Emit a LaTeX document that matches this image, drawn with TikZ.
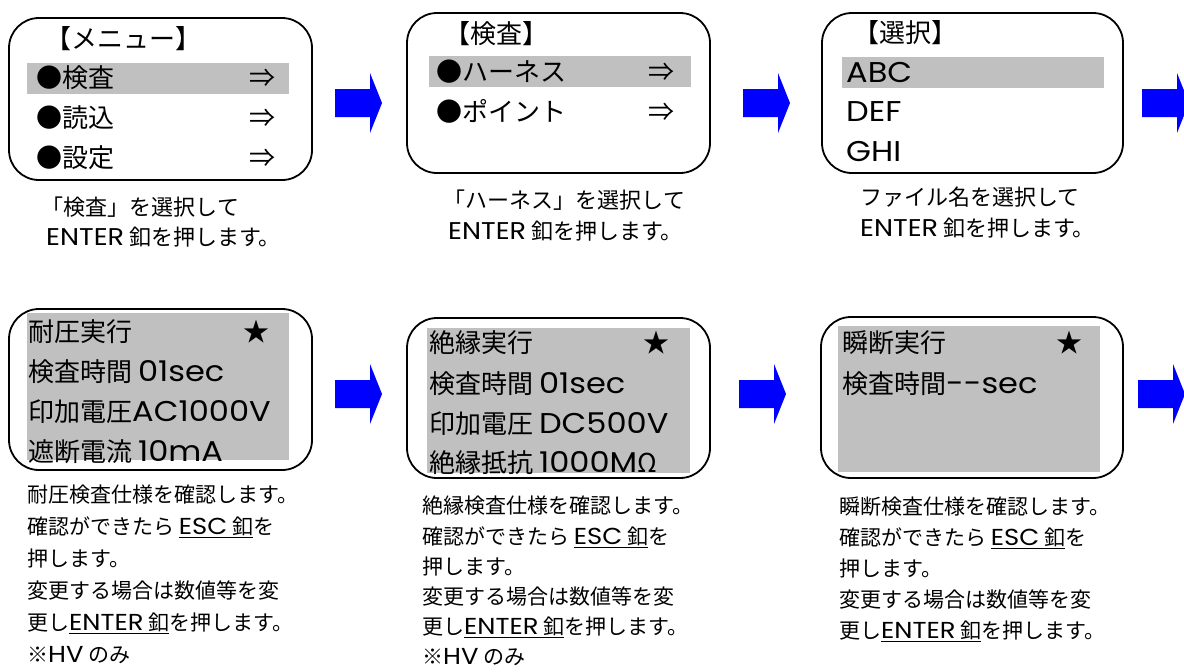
\documentclass[tikz,border=0pt]{standalone}
\usepackage{fontspec}
\setmainfont{Noto Sans CJK JP}
\newfontfamily\latfont[Scale=1.1,FakeStretch=1.12]{Poppins}
\newcommand\latn[1]{{\latfont #1}}
\definecolor{hlgray}{RGB}{192,192,192}
\definecolor{arrowblue}{RGB}{0,0,255}
\begin{document}
\begin{tikzpicture}[x=1pt,y=-1pt,
  screen/.style={draw=black, line width=1.8pt, rounded corners=30pt, inner sep=0pt},
  hl/.style={fill=hlgray},
  row/.style={anchor=west, inner sep=0pt, font=\fontsize{26}{30}\selectfont, text height=21.6pt, text depth=1.8pt},
  captext/.style={anchor=north west, inner sep=0pt, align=left},
  barrow/.pic={\fill[arrowblue] (0,-14) -- (35,-14) -- (35,-30) -- (47,0) -- (35,30) -- (35,14) -- (0,14) -- cycle;}
]
\useasboundingbox (0,0) rectangle (1184,672);
\clip (0,0) rectangle (1184,672);

% highlights
\fill[hl] (27,63) rectangle (289,94);
\fill[hl] (429,56) rectangle (691,87);
\fill[hl] (842,57) rectangle (1104,88);
\fill[hl] (27,313) rectangle (289,460);
\fill[hl] (427,328) rectangle (690,473);
\fill[hl] (838,326) rectangle (1100,472);

% screens
\node[screen, minimum width=303pt, minimum height=162pt] (s1) at (160.5,99) {};
\node[screen, minimum width=303pt, minimum height=160pt] (s2) at (558.5,93) {};
\node[screen, minimum width=301pt, minimum height=160pt] (s3) at (972.5,93) {};
\node[screen, minimum width=303pt, minimum height=161pt] (s4) at (160.5,389.5) {};
\node[screen, minimum width=303pt, minimum height=160pt] (s5) at (558.5,398) {};
\node[screen, minimum width=302pt, minimum height=161pt] (s6) at (972,397.5) {};

% screen 1
\node[row] (t1) at (45,39) {【メニュー】};
\node[row] (r11) at (36,78) {●検査};
\node[row] (r12) at (36,118) {●読込};
\node[row] (r13) at (36,158) {●設定};
\node[row, anchor=center] (a11) at (262,78) {⇒};
\node[row, anchor=center] (a12) at (262,118) {⇒};
\node[row, anchor=center] (a13) at (262,158) {⇒};

% screen 2
\node[row] (t2) at (444,34) {【検査】};
\node[row] (r21) at (436,72) {●ハーネス};
\node[row] (r22) at (436,112) {●ポイント};
\node[row, anchor=center] (a21) at (661,72) {⇒};
\node[row, anchor=center] (a22) at (661,112) {⇒};

% screen 3
\node[row] (t3) at (853,33) {【選択】};
\node[row] (r31) at (846,73) {\latn{ABC}};
\node[row] (r32) at (846,112) {\latn{DEF}};
\node[row] (r33) at (846,152) {\latn{GHI}};

% screen 4
\node[row] (t4) at (28,332) {耐圧実行};
\node[row, anchor=center] (k4) at (256,332) {★};
\node[row] (r41) at (28,372) {検査時間 \latn{01sec}};
\node[row] (r42) at (28,412) {印加電圧\latn{AC1000V}};
\node[row] (r43) at (28,452) {遮断電流 \latn{10mA}};

% screen 5
\node[row] (t5) at (429,343) {絶縁実行};
\node[row, anchor=center] (k5) at (656,343) {★};
\node[row] (r51) at (429,384) {検査時間 \latn{01sec}};
\node[row] (r52) at (429,424) {印加電圧 \latn{DC500V}};
\node[row] (r53) at (429,463) {絶縁抵抗 \latn{1000M}Ω};

% screen 6
\node[row] (t6) at (842,343) {瞬断実行};
\node[row, anchor=center] (k6) at (1069,343) {★};
\node[row] (r61) at (842,384) {検査時間\latn{-{}-sec}};

% captions
\node[captext, font=\fontsize{22}{29.5}\selectfont] (c1) at (46,197)
  {\kern-0.2em「検査」を選択して\\\latn{ENTER} 釦を押します。};
\node[captext, font=\fontsize{22}{31}\selectfont] (c2) at (448,190)
  {\kern-0.2em「ハーネス」を選択して\\\latn{ENTER} 釦を押します。};
\node[captext, font=\fontsize{22}{31}\selectfont] (c3) at (860,187)
  {ファイル名を選択して\\\latn{ENTER} 釦を押します。};
\node[captext, font=\fontsize{21}{32}\selectfont] (c4) at (27,485)
  {耐圧検査仕様を確認します。\\確認ができたら \underline{\latn{ESC} 釦}を\\押します。\\変更する場合は数値等を変\\更し\underline{\latn{ENTER} 釦}を押します。\\※\latn{HV} のみ};
\node[captext, font=\fontsize{21}{30.2}\selectfont] (c5) at (422,496)
  {絶縁検査仕様を確認します。\\確認ができたら \underline{\latn{ESC} 釦}を\\押します。\\変更する場合は数値等を変\\更し\underline{\latn{ENTER} 釦}を押します。\\※\latn{HV} のみ};
\node[captext, font=\fontsize{21}{31}\selectfont] (c6) at (839,497)
  {瞬断検査仕様を確認します。\\確認ができたら \underline{\latn{ESC} 釦}を\\押します。\\変更する場合は数値等を変\\更し\underline{\latn{ENTER} 釦}を押します。};

% block arrows
\pic at (335,103) {barrow};
\pic at (743,103) {barrow};
\pic at (1142,103) {barrow};
\pic at (335,394) {barrow};
\pic at (739,394) {barrow};
\pic at (1138,394) {barrow};
\end{tikzpicture}
\end{document}
